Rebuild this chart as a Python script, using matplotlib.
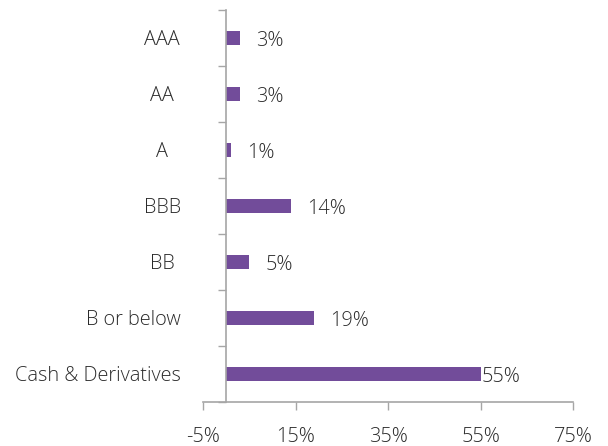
import matplotlib
matplotlib.use("Agg")
import matplotlib.pyplot as plt
from matplotlib.ticker import FixedLocator

# data
categories = ["AAA", "AA", "A", "BBB", "BB", "B or below", "Cash & Derivatives"]
values = [3, 3, 1, 14, 5, 19, 55]
x_ticks = [-5, 15, 35, 55, 75]

bar_color = "#724C9A"
text_color = "#2B2B2B"
axis_color = "#A6A6A6"

plt.rcParams["font.family"] = ["Open Sans", "DejaVu Sans"]
plt.rcParams["font.size"] = 14.3

fig = plt.figure(figsize=(6.08, 4.46), dpi=100)
ax = fig.add_axes([0.3339, 0.0987, 0.6086, 0.8789])

ypos = list(range(len(categories)))
ax.barh(ypos, values, height=0.24, color=bar_color, zorder=2)

ax.set_xlim(-5, 75)
ax.set_ylim(len(categories) - 0.5, -0.5)

# x axis
ax.set_xticks(x_ticks)
ax.set_xticklabels([f"{t}%" for t in x_ticks], color=text_color, fontweight="light")
ax.tick_params(axis="x", direction="out", length=6, width=1, color=axis_color, pad=12)

# y axis: spine at zero, ticks at category boundaries
ax.spines["left"].set_position(("data", 0))
ax.spines["top"].set_visible(False)
ax.spines["right"].set_visible(False)
for sp in ("left", "bottom"):
    ax.spines[sp].set_color(axis_color)
    ax.spines[sp].set_linewidth(1.2)
ax.set_yticks([])
ax.yaxis.set_minor_locator(FixedLocator([i - 0.5 for i in range(len(categories) + 1)]))
ax.tick_params(axis="y", which="minor", direction="out", length=6, width=1, color=axis_color)

# category labels (short ones centred, long ones right aligned, as in the original)
for i, lab in enumerate(categories):
    if len(lab) <= 3:
        ax.annotate(lab, xy=(0, i), xytext=(-64 * 0.72, -1.5), textcoords="offset points",
                    ha="center", va="center", color=text_color, fontweight="light")
    else:
        ax.annotate(lab, xy=(0, i), xytext=(-45 * 0.72, -1.5), textcoords="offset points",
                    ha="right", va="center", color=text_color, fontweight="light")

# value labels
vmax = max(values)
for i, v in enumerate(values):
    off = 1 if v == vmax else 16
    ax.annotate(f"{v}%", xy=(v, i), xytext=(off * 0.72, -2.5), textcoords="offset points",
                ha="left", va="center", color=text_color, fontweight="light")

fig.savefig("out.png", dpi=100, facecolor="white")
